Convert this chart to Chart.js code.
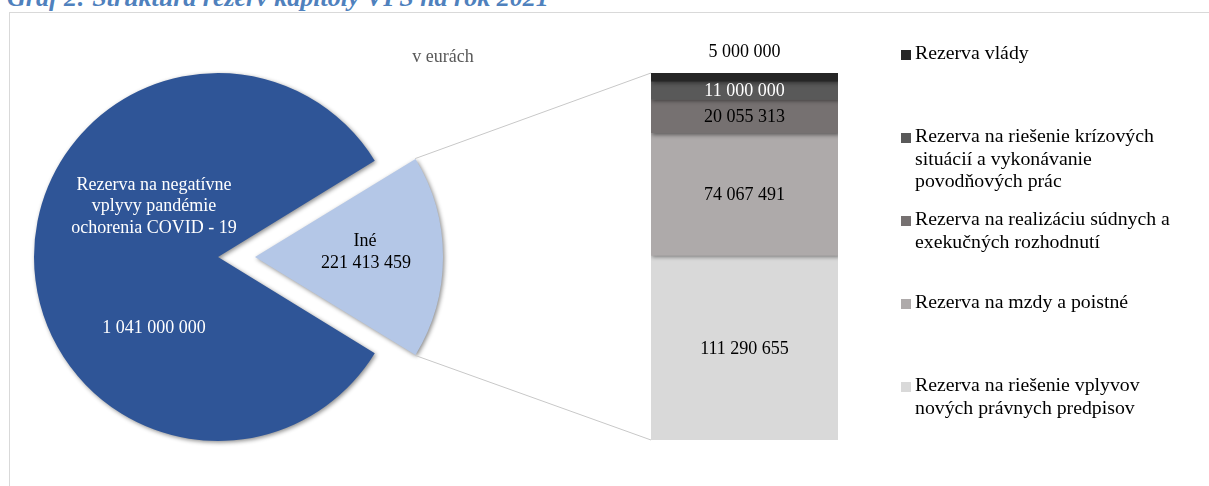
<!DOCTYPE html>
<html>
<head>
  <meta charset="utf-8">
  <title>Graf 2: Štruktúra rezerv kapitoly VPS na rok 2021</title>
  <script src="https://cdn.jsdelivr.net/npm/chart.js"></script>
  <style>
    body {
      margin: 0;
      width: 1209px;
      height: 486px;
      overflow: hidden;
      background: #fff;
      position: relative;
      font-family: "Liberation Serif", "Times New Roman", serif;
    }
    #title {
      position: absolute;
      left: 7px;
      top: -17px;
      font-size: 26px;
      font-weight: bold;
      font-style: italic;
      color: #4f81bd;
      white-space: nowrap;
    }
    #frame {
      position: absolute;
      left: 9px;
      top: 12px;
      width: 1400px;
      height: 600px;
      border-left: 1px solid #d9d9d9;
      border-top: 1px solid #d9d9d9;
    }
    .wrap {
      position: absolute;
      left: 0;
      top: 0;
      width: 1209px;
      height: 486px;
    }
    #unit {
      position: absolute;
      left: 443px;
      top: 46px;
      transform: translateX(-50%);
      font-size: 18px;
      color: #595959;
      white-space: nowrap;
    }
    .leg {
      position: absolute;
      left: 901px;
      padding-left: 14px;
      font-size: 19.8px;
      line-height: 22.5px;
      color: #000;
      white-space: nowrap;
    }
    .leg .box {
      position: absolute;
      left: 0;
      top: 9px;
      width: 10px;
      height: 10px;
    }
  </style>
</head>
<body>
  <div id="title">Graf 2: Štruktúra rezerv kapitoly VPS na rok 2021</div>
  <div id="frame"></div>
  <div class="wrap"><canvas id="pie"></canvas></div>
  <div class="wrap"><canvas id="bar"></canvas></div>
  <div id="unit">v eurách</div>
  <div id="legend"></div>

  <script>
    // kolac: Ine vs. COVID rezerva
    const pieNames = [['Iné'], ['Rezerva na negatívne', 'vplyvy pandémie', 'ochorenia COVID - 19']];
    const pieValues = [221413459, 1041000000];
    const pieColors = ['#b4c7e7', '#2f5597'];

    // stlpec: rozpad polozky Ine
    const barNames = [
      ['Rezerva vlády'],
      ['Rezerva na riešenie krízových', 'situácií a vykonávanie', 'povodňových prác'],
      ['Rezerva na realizáciu súdnych a', 'exekučných rozhodnutí'],
      ['Rezerva na mzdy a poistné'],
      ['Rezerva na riešenie vplyvov', 'nových právnych predpisov']
    ];
    const barValues = [5000000, 11000000, 20055313, 74067491, 111290655];
    const barColors = ['#262626', '#595959', '#767171', '#aeaaaa', '#d9d9d9'];
    const barLabelColors = ['#000', '#fff', '#000', '#000', '#000'];

    const FONT = '"Liberation Serif", "Times New Roman", serif';
    const fmt = v => String(v).replace(/\B(?=(\d{3})+(?!\d))/g, ' ');

    const pieTotal = pieValues.reduce((a, b) => a + b, 0);
    const barTotal = barValues.reduce((a, b) => a + b, 0);
    const halfAngle = pieValues[0] / pieTotal * 180;
    const explode = 37; // px, chart.js delí offset štyrmi

    // rovnaký posun ako robí ArcElement.draw
    function arcGeom(a) {
      const off = (a.options.offset || 0) / 4;
      const mid = (a.startAngle + a.endAngle) / 2;
      const fix = 1 - Math.sin(Math.min(Math.PI, a.circumference || 0));
      return {
        x: a.x + Math.cos(mid) * off,
        y: a.y + Math.sin(mid) * off,
        r: a.outerRadius + off * fix
      };
    }

    const shadow = {
      id: 'shadow',
      beforeDatasetsDraw(chart) {
        const ctx = chart.ctx;
        ctx.save();
        ctx.shadowColor = 'rgba(0,0,0,0.45)';
        ctx.shadowBlur = 4;
        ctx.shadowOffsetX = 1.5;
        ctx.shadowOffsetY = 1.5;
      },
      afterDatasetsDraw(chart) {
        chart.ctx.restore();
      }
    };

    const pieText = {
      id: 'pieText',
      afterDatasetsDraw(chart) {
        const ctx = chart.ctx;
        const arcs = chart.getDatasetMeta(0).data;
        ctx.save();
        ctx.font = '18px ' + FONT;
        ctx.textAlign = 'center';
        ctx.textBaseline = 'middle';
        // Ine (vysunuty vysek)
        let g = arcGeom(arcs[0]);
        ctx.fillStyle = '#000';
        ctx.fillText(pieNames[0][0], g.x + 110, g.y - 16);
        ctx.fillText(fmt(pieValues[0]), g.x + 111, g.y + 6);
        // COVID
        const a = arcs[1];
        ctx.fillStyle = '#fff';
        pieNames[1].forEach((t, i) => ctx.fillText(t, a.x - 64, a.y - 72 + i * 21.5));
        ctx.fillText(fmt(pieValues[1]), a.x - 64, a.y + 71);
        ctx.restore();
      }
    };

    const pieChart = new Chart(document.getElementById('pie'), {
      type: 'pie',
      data: {
        labels: pieNames.map(n => n.join(' ')),
        datasets: [{
          data: pieValues,
          backgroundColor: pieColors,
          borderWidth: 0,
          offset: [explode * 4, 0]
        }]
      },
      options: {
        responsive: true,
        maintainAspectRatio: false,
        animation: false,
        events: [],
        rotation: 90 - halfAngle,
        radius: 184,
        layout: { padding: { left: 20, right: 793, top: 60, bottom: 32 } },
        plugins: { legend: { display: false }, tooltip: { enabled: false } }
      },
      plugins: [shadow, pieText]
    });

    const connectors = {
      id: 'connectors',
      beforeDatasetsDraw(chart) {
        const ctx = chart.ctx;
        const a = pieChart.getDatasetMeta(0).data[0];
        const g = arcGeom(a);
        const y = chart.scales.y;
        const left = chart.chartArea.left;
        ctx.save();
        ctx.strokeStyle = '#c8c8c8';
        ctx.lineWidth = 1;
        ctx.beginPath();
        ctx.moveTo(g.x + g.r * Math.cos(a.startAngle), g.y + g.r * Math.sin(a.startAngle));
        ctx.lineTo(left, y.getPixelForValue(0));
        ctx.moveTo(g.x + g.r * Math.cos(a.endAngle), g.y + g.r * Math.sin(a.endAngle));
        ctx.lineTo(left, y.getPixelForValue(barTotal));
        ctx.stroke();
        ctx.restore();
      }
    };

    const barText = {
      id: 'barText',
      afterDatasetsDraw(chart) {
        const ctx = chart.ctx;
        ctx.save();
        ctx.font = '18px ' + FONT;
        ctx.textAlign = 'center';
        ctx.textBaseline = 'middle';
        chart.data.datasets.forEach((ds, i) => {
          const el = chart.getDatasetMeta(i).data[0];
          const h = Math.abs(el.base - el.y);
          const top = Math.min(el.y, el.base);
          ctx.fillStyle = barLabelColors[i];
          if (h < 12) {
            ctx.fillStyle = '#000';
            ctx.fillText(fmt(ds.data[0]), el.x, top - 21);
          } else {
            ctx.fillText(fmt(ds.data[0]), el.x, top + h / 2 + 1);
          }
        });
        ctx.restore();
      }
    };

    new Chart(document.getElementById('bar'), {
      type: 'bar',
      data: {
        labels: ['Iné'],
        datasets: barValues.map((v, i) => ({
          label: barNames[i].join(' '),
          data: [v],
          backgroundColor: barColors[i],
          borderWidth: 0,
          barPercentage: 1,
          categoryPercentage: 1
        }))
      },
      options: {
        responsive: true,
        maintainAspectRatio: false,
        animation: false,
        events: [],
        layout: { padding: { left: 651, right: 371, top: 73, bottom: 46 } },
        scales: {
          x: { stacked: true, display: false },
          y: { stacked: true, display: false, reverse: true, min: 0, max: barTotal }
        },
        plugins: { legend: { display: false }, tooltip: { enabled: false } }
      },
      plugins: [connectors, shadow, barText]
    });

    // legenda
    const legend = document.getElementById('legend');
    barNames.forEach((lines, i) => {
      const d = document.createElement('div');
      d.className = 'leg';
      d.style.top = (41 + i * 83) + 'px';
      d.innerHTML = '<span class="box" style="background:' + barColors[i] + '"></span>' + lines.join('<br>');
      legend.appendChild(d);
    });
  </script>
</body>
</html>
